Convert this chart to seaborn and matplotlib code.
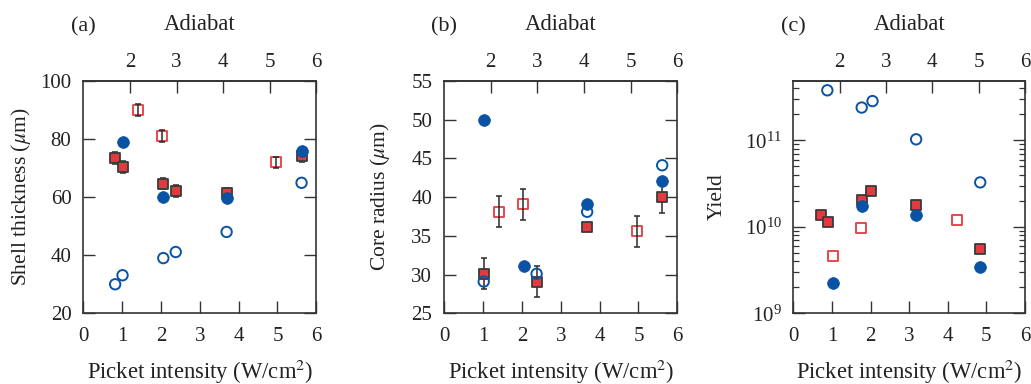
import numpy as np
import pandas as pd
import matplotlib
matplotlib.use("Agg")
import matplotlib.pyplot as plt
import seaborn as sns
from matplotlib.ticker import FixedLocator, LogLocator, NullFormatter, LogFormatterMathtext

# ---------------- data ----------------
# Panel (a): shell thickness (um)
a_open_circ_x = [0.82, 1.01, 2.06, 2.38, 3.69, 5.62]
a_open_circ_y = [30.0, 33.1, 39.0, 41.1, 48.0, 64.9]
a_fill_circ_x = [1.01, 2.06, 3.69, 5.62]
a_fill_circ_y = [78.9, 60.0, 59.8, 76.0]
a_fill_sq_x = [0.82, 1.01, 2.06, 2.38, 3.69, 5.62]
a_fill_sq_y = [73.4, 70.4, 64.6, 62.1, 61.5, 74.1]
a_fill_sq_err = [2.0, 2.0, 2.0, 2.0, 1.5, 2.0]
a_open_sq_x = [1.41, 2.03, 4.95]
a_open_sq_y = [89.9, 80.9, 71.9]
a_open_sq_err = [2.0, 2.0, 2.0]

# Panel (b): core radius (um)
b_open_circ_x = [1.02, 2.38, 3.68, 5.61]
b_open_circ_y = [29.1, 30.1, 38.1, 44.1]
b_fill_circ_x = [1.02, 2.05, 3.68, 5.61]
b_fill_circ_y = [50.0, 31.1, 39.1, 42.1]
b_fill_sq_x = [1.02, 2.38, 3.68, 5.61]
b_fill_sq_y = [30.1, 29.1, 36.1, 40.0]
b_fill_sq_err = [2.0, 2.0, 0.4, 2.0]
b_open_sq_x = [1.41, 2.03, 4.95]
b_open_sq_y = [38.1, 39.1, 35.6]
b_open_sq_err = [2.0, 2.0, 2.0]

# Panel (c): yield
c_open_circ_x = [0.88, 1.77, 2.05, 3.18, 4.84]
c_open_circ_y = [3.8e11, 2.4e11, 2.85e11, 1.03e11, 3.27e10]
c_fill_circ_x = [1.02, 1.78, 3.18, 4.84]
c_fill_circ_y = [2.27e9, 1.74e10, 1.38e10, 3.43e9]
c_fill_sq_x = [0.71, 0.90, 1.77, 2.02, 3.18, 4.84]
c_fill_sq_y = [1.38e10, 1.15e10, 2.02e10, 2.6e10, 1.79e10, 5.5e9]
c_open_sq_x = [1.02, 1.75, 4.25]
c_open_sq_y = [4.6e9, 9.8e9, 1.19e10]

adiabat_ticks = [2, 3, 4, 5, 6]
x_ticks = [0, 1, 2, 3, 4, 5, 6]

# ---------------- style ----------------
sns.set_theme(style="ticks")
plt.rcParams["font.family"] = ["Liberation Serif", "DejaVu Serif"]
plt.rcParams["mathtext.fontset"] = "stix"
plt.rcParams["axes.unicode_minus"] = False

BLUE = "#0a52a3"
RED = "#e23b3f"
RED_OPEN = "#e8474d"
SQ_EDGE = "#3a3a3a"
SPINE = "#333333"
TXT = "#222222"
TICK_FS = 15
LABEL_FS = 15.5

fig = plt.figure(figsize=(10.31, 3.84), dpi=100)
bottom = 0.184
height = 0.6057
axes = [
    fig.add_axes([0.0808, bottom, 0.2260, height]),
    fig.add_axes([0.4307, bottom, 0.2263, height]),
    fig.add_axes([0.7695, bottom, 0.2247, height]),
]


def draw_panel(ax, oc, fc, fs, os_, fs_err=None, os_err=None):
    # open red squares
    sns.scatterplot(x=os_[0], y=os_[1], ax=ax, marker="s", s=58, color="white",
                    edgecolor=RED_OPEN, linewidth=1.4, zorder=2)
    if os_err is not None:
        ax.errorbar(os_[0], os_[1], yerr=os_err, fmt="none", ecolor="#2a2a2a",
                    elinewidth=1.1, capsize=2, capthick=1.1, zorder=3)
    if fs_err is not None:
        ax.errorbar(fs[0], fs[1], yerr=fs_err, fmt="none", ecolor="#2a2a2a",
                    elinewidth=1.1, capsize=2, capthick=1.1, zorder=3)
    # filled red squares
    sns.scatterplot(x=fs[0], y=fs[1], ax=ax, marker="s", s=60, color=RED,
                    edgecolor=SQ_EDGE, linewidth=1.3, zorder=4)
    # filled blue circles
    sns.scatterplot(x=fc[0], y=fc[1], ax=ax, marker="o", s=72, color=BLUE,
                    edgecolor=BLUE, linewidth=0.5, zorder=5)
    # open blue circles
    sns.scatterplot(x=oc[0], y=oc[1], ax=ax, marker="o", s=56, color=BLUE,
                    facecolor="none", edgecolor=BLUE, linewidth=1.4, zorder=6)


draw_panel(axes[0], (a_open_circ_x, a_open_circ_y), (a_fill_circ_x, a_fill_circ_y),
           (a_fill_sq_x, a_fill_sq_y), (a_open_sq_x, a_open_sq_y),
           fs_err=a_fill_sq_err, os_err=a_open_sq_err)
draw_panel(axes[1], (b_open_circ_x, b_open_circ_y), (b_fill_circ_x, b_fill_circ_y),
           (b_fill_sq_x, b_fill_sq_y), (b_open_sq_x, b_open_sq_y),
           fs_err=b_fill_sq_err, os_err=b_open_sq_err)
axes[2].set_yscale("log")
draw_panel(axes[2], (c_open_circ_x, c_open_circ_y), (c_fill_circ_x, c_fill_circ_y),
           (c_fill_sq_x, c_fill_sq_y), (c_open_sq_x, c_open_sq_y))

ylabels = [r"Shell thickness ($\mu$m)", r"Core radius ($\mu$m)", "Yield"]
ylabel_pads = [5, 14, 13]
panel_tags = ["(a)", "(b)", "(c)"]

for i, ax in enumerate(axes):
    ax.set_xlim(0, 6)
    ax.xaxis.set_major_locator(FixedLocator(x_ticks))
    ax.set_xlabel(r"Picket intensity (W/cm$^{2}$)", fontsize=16.3, color=TXT, labelpad=8.5)
    ax.set_ylabel(ylabels[i], fontsize=LABEL_FS, color=TXT, labelpad=ylabel_pads[i])
    ax.tick_params(axis="x", which="both", direction="in", top=False, bottom=True,
                   length=8.5, width=1.0, pad=9.5, labelsize=TICK_FS, colors=SPINE, labelcolor=TXT)
    ax.tick_params(axis="y", which="major", direction="in", left=True, right=True,
                   length=8.5, width=1.0, pad=8.5, labelsize=TICK_FS, colors=SPINE, labelcolor=TXT)
    ax.tick_params(axis="y", which="minor", direction="in", left=True, right=True,
                   length=4.5, width=0.9, colors=SPINE)
    for sp in ax.spines.values():
        sp.set_color(SPINE)
        sp.set_linewidth(1.2)
    sec = ax.secondary_xaxis("top", functions=(lambda x: (x + 1.2) / 1.2,
                                                lambda a: 1.2 * a - 1.2))
    sec.xaxis.set_major_locator(FixedLocator(adiabat_ticks))
    sec.tick_params(axis="x", which="both", direction="in", length=8.5, width=1.0,
                    pad=6, labelsize=TICK_FS, colors=SPINE, labelcolor=TXT)
    sec.xaxis.set_minor_locator(FixedLocator([]))
    sec.spines["top"].set_color(SPINE)
    sec.spines["top"].set_linewidth(1.2)
    sec.set_xlabel("Adiabat", fontsize=16.3, color=TXT, labelpad=17)
    ax.text(0.0, 1.232, panel_tags[i], transform=ax.transAxes, ha="center", va="center",
            fontsize=16, color=TXT)

axes[0].set_ylim(20, 100)
axes[0].yaxis.set_major_locator(FixedLocator([20, 40, 60, 80, 100]))
axes[1].set_ylim(25, 55)
axes[1].yaxis.set_major_locator(FixedLocator([25, 30, 35, 40, 45, 50, 55]))
axes[2].set_ylim(1e9, 4.9e11)
axes[2].yaxis.set_major_locator(LogLocator(base=10, numticks=10))
axes[2].yaxis.set_major_formatter(LogFormatterMathtext())
axes[2].yaxis.set_minor_locator(LogLocator(base=10, subs=np.arange(2, 10), numticks=20))
axes[2].yaxis.set_minor_formatter(NullFormatter())

fig.savefig("out.png", dpi=100)
